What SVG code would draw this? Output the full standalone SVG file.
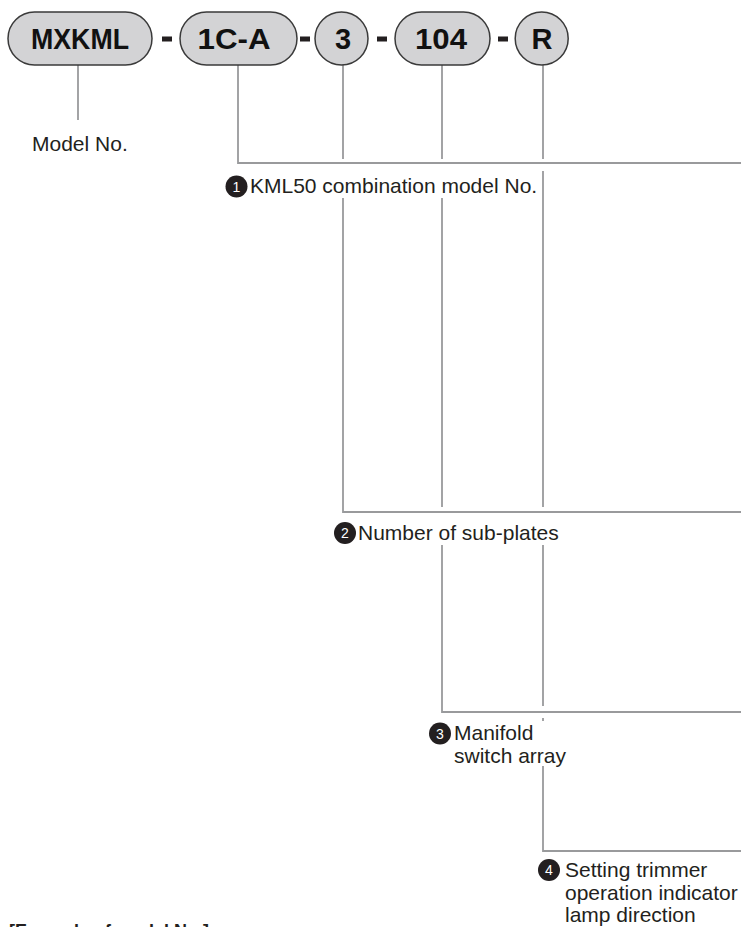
<svg xmlns="http://www.w3.org/2000/svg" width="741" height="927" viewBox="0 0 741 927">
<style>
.pill{fill:#d3d3d5;stroke:#3a3a3a;stroke-width:1.5}
.dash{fill:#231f20}
.code{font-family:"Liberation Sans",Arial,sans-serif;font-weight:bold;font-size:29px;fill:#111;text-anchor:middle}
.lbl{font-family:"Liberation Sans",Arial,sans-serif;font-size:21px;fill:#231f20}
.num{font-family:"Liberation Sans",Arial,sans-serif;font-size:14px;fill:#fff;text-anchor:middle}
.bullet{fill:#231f20}
.conn{fill:none;stroke:#999a9c;stroke-width:1.8}
.title{font-family:"Liberation Sans",Arial,sans-serif;font-weight:bold;font-size:18px;fill:#231f20}
</style>
<rect width="741" height="927" fill="#fff"/>
<g id="connectors">
<path class="conn" d="M78 65V120"/>
<path class="conn" d="M238 65V163H741"/>
<path class="conn" d="M343 65V159M343 198V512H741"/>
<path class="conn" d="M442 65V159M442 198V507M442 545V712H741"/>
<path class="conn" d="M543 65V159M543 171V507M543 545V706M543 718V721M543 766V851H741"/>
</g>
<g id="code-MXKML">
<rect class="pill" x="8" y="12" width="144" height="53" rx="26.5"/>
<text class="code" x="80" y="49" textLength="98" lengthAdjust="spacingAndGlyphs">MXKML</text>
</g>
<rect class="dash" x="162" y="36.5" width="10" height="5"/>
<g id="code-1CA">
<rect class="pill" x="180" y="12" width="117" height="53" rx="26.5"/>
<text class="code" x="234" y="49" textLength="73" lengthAdjust="spacingAndGlyphs">1C-A</text>
</g>
<rect class="dash" x="300" y="36.5" width="10" height="5"/>
<g id="code-3">
<circle class="pill" cx="341.5" cy="38.5" r="26.5"/>
<text class="code" x="343" y="49">3</text>
</g>
<rect class="dash" x="377" y="36.5" width="10" height="5"/>
<g id="code-104">
<rect class="pill" x="395" y="12" width="95" height="53" rx="26.5"/>
<text class="code" x="441" y="49" textLength="52" lengthAdjust="spacingAndGlyphs">104</text>
</g>
<rect class="dash" x="498" y="36.5" width="10" height="5"/>
<g id="code-R">
<circle class="pill" cx="541.7" cy="38.5" r="26.5"/>
<text class="code" x="542" y="49">R</text>
</g>
<g id="label-model">
<text class="lbl" x="32" y="151">Model No.</text>
</g>
<g id="label-1">
<circle class="bullet" cx="236.5" cy="186.5" r="11"/>
<text class="num" x="236.5" y="191.5">1</text>
<text class="lbl" x="250" y="193">KML50 combination model No.</text>
</g>
<g id="label-2">
<circle class="bullet" cx="345" cy="533" r="11"/>
<text class="num" x="345" y="538">2</text>
<text class="lbl" x="358" y="540">Number of sub-plates</text>
</g>
<g id="label-3">
<circle class="bullet" cx="440" cy="733.5" r="11"/>
<text class="num" x="440" y="738.5">3</text>
<text class="lbl" x="454" y="740">Manifold</text>
<text class="lbl" x="454" y="763">switch array</text>
</g>
<g id="label-4">
<circle class="bullet" cx="549" cy="870" r="11"/>
<text class="num" x="549" y="875">4</text>
<text class="lbl" x="565" y="877">Setting trimmer</text>
<text class="lbl" x="565" y="900">operation indicator</text>
<text class="lbl" x="565" y="922">lamp direction</text>
</g>
<text class="title" x="9" y="937">[Example of model No.]</text>
</svg>
